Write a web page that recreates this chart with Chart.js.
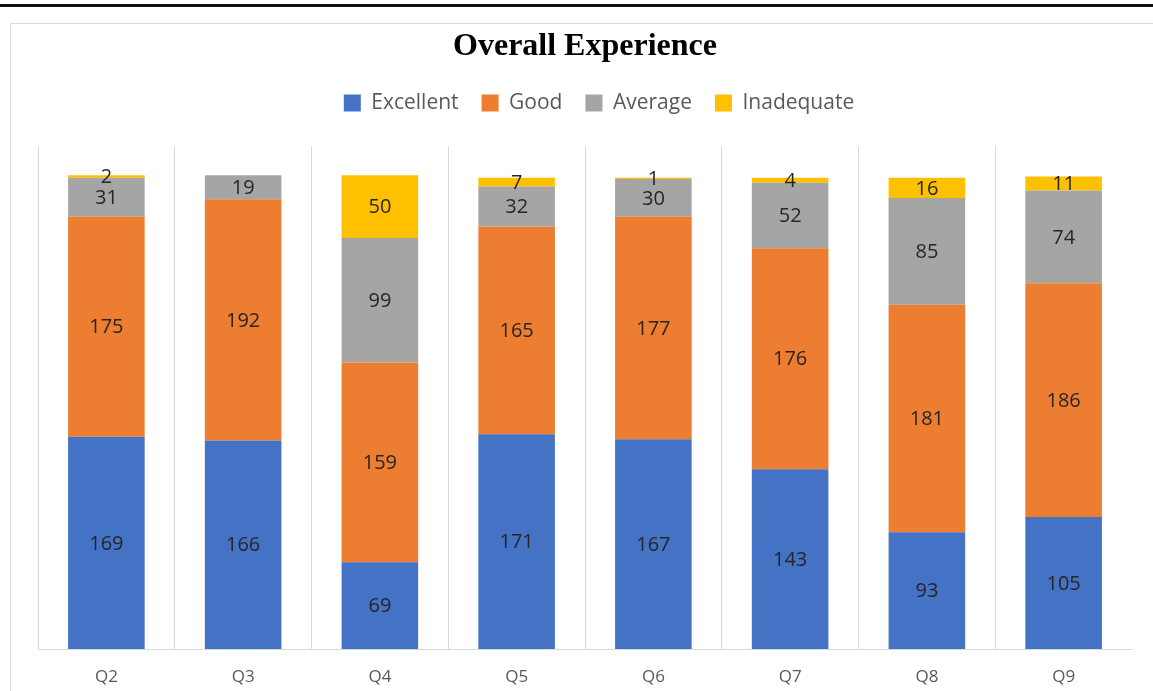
<!DOCTYPE html>
<html>
<head>
<meta charset="utf-8">
<script src="https://cdn.jsdelivr.net/npm/chart.js@4"></script>
<style>
  body { margin: 0; background: #fff; overflow: hidden; }
  .topline { position: absolute; left: 0; top: 4px; width: 1153px; height: 3px; background: #111; }
  .box { position: absolute; left: 10px; top: 23px; width: 1150px; height: 680px; border: 1px solid #d9d9d9; }
  .wrap { position: absolute; left: 11px; top: 24px; width: 1142px; height: 667px; }
  canvas { display: block; }
</style>
</head>
<body>
<div class="topline"></div>
<div class="box"></div>
<div class="wrap"><canvas id="myChart" width="1142" height="667"></canvas></div>
<script>
const ctx = document.getElementById('myChart').getContext('2d');

const questions = ['Q2', 'Q3', 'Q4', 'Q5', 'Q6', 'Q7', 'Q8', 'Q9'];
const excellent = [169, 166, 69, 171, 167, 143, 93, 105];
const good = [175, 192, 159, 165, 177, 176, 181, 186];
const average = [31, 19, 99, 32, 30, 52, 85, 74];
const inadequate = [2, 0, 50, 7, 1, 4, 16, 11];

// value labels in the middle of each stacked piece
const segmentLabels = {
  id: 'segmentLabels',
  afterDatasetsDraw(chart) {
    const c = chart.ctx;
    c.save();
    c.font = '20px "Open Sans"';
    c.fillStyle = '#262626';
    c.textAlign = 'center';
    c.textBaseline = 'middle';
    chart.data.datasets.forEach((ds, i) => {
      chart.getDatasetMeta(i).data.forEach((bar, j) => {
        const v = ds.data[j];
        if (!v) return;
        c.fillText(v, bar.x, (bar.y + bar.base) / 2 + 1);
      });
    });
    c.restore();
  },
};

// more room under the legend, and the legend sits a little to the right
const legendGap = {
  id: 'legendGap',
  beforeInit(chart) {
    const fit = chart.legend.fit;
    chart.legend.fit = function () {
      fit.bind(chart.legend)();
      this.height += 23;
    };
  },
  afterLayout(chart) {
    chart.legend.left += 14;
    chart.legend.right += 14;
  },
};

const myChart = new Chart(ctx, {
  type: 'bar',
  data: {
    labels: questions,
    datasets: [
      { label: 'Excellent', data: excellent, backgroundColor: '#4472C4' },
      { label: 'Good', data: good, backgroundColor: '#ED7D31' },
      { label: 'Average', data: average, backgroundColor: '#A5A5A5' },
      { label: 'Inadequate', data: inadequate, backgroundColor: '#FFC000' },
    ],
  },
  options: {
    responsive: false,
    animation: false,
    datasets: {
      bar: { categoryPercentage: 1, barPercentage: 0.56 },
    },
    layout: {
      padding: { left: 27, right: 21, bottom: 4 },
    },
    scales: {
      x: {
        stacked: true,
        afterFit: (scale) => {
          scale.height = 38;
        },
        grid: {
          offset: true,
          drawTicks: false,
          color: (c) => (c.type === 'tick' ? '#d9d9d9' : 'rgba(0,0,0,0)'),
        },
        border: { color: '#d9d9d9' },
        ticks: {
          color: '#595959',
          font: { family: '"Open Sans"', size: 17 },
          padding: 18,
        },
      },
      y: {
        stacked: true,
        display: false,
        min: 0,
        max: 400,
      },
    },
    plugins: {
      tooltip: { enabled: false },
      legend: {
        position: 'top',
        labels: {
          color: '#595959',
          font: { family: '"Open Sans"', size: 21 },
          boxWidth: 17,
          boxHeight: 17,
          padding: 23,
        },
      },
      title: {
        display: true,
        text: 'Overall Experience',
        color: '#000',
        font: { family: '"Liberation Serif"', size: 32, weight: 'bold' },
        padding: { top: 4, bottom: 3 },
      },
    },
  },
  plugins: [segmentLabels, legendGap],
});
</script>
</body>
</html>
